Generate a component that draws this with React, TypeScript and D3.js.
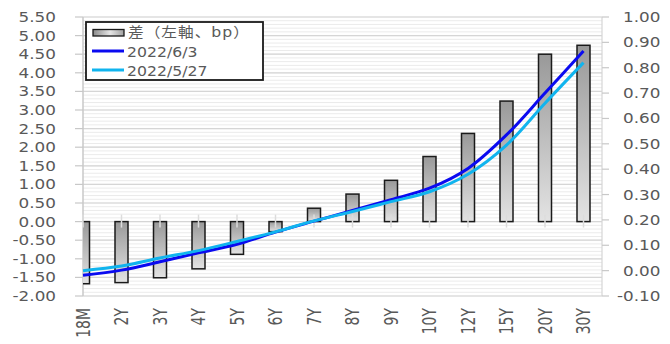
import React from "react";
import * as d3 from "d3";

// Tenors along the curve
const categories = ["18M", "2Y", "3Y", "4Y", "5Y", "6Y", "7Y", "8Y", "9Y", "10Y", "12Y", "15Y", "20Y", "30Y"];
// Week-over-week change in bp (left axis)
const diffBp = [-1.67, -1.64, -1.51, -1.27, -0.88, -0.27, 0.36, 0.74, 1.11, 1.75, 2.37, 3.24, 4.5, 4.74];
// Yields in % (right axis)
const yieldJun3 = [-0.018, 0.002, 0.035, 0.07, 0.104, 0.152, 0.195, 0.237, 0.28, 0.325, 0.403, 0.535, 0.7, 0.866];
const yieldMay27 = [0.0, 0.018, 0.05, 0.079, 0.115, 0.153, 0.196, 0.233, 0.272, 0.311, 0.38, 0.495, 0.66, 0.82];

const leftTicks = d3.range(-2, 5.5001, 0.5);
const rightTicks = d3.range(-0.1, 1.0001, 0.1);
const minorTicks = d3.range(-2, 5.5001, 0.1);

const seriesNames = ["差（左軸、bp）", "2022/6/3", "2022/5/27"];
const lineColors = ["#0a0af0", "#10b4ee"];

const W = 670;
const H = 344;
const plot = { left: 83, right: 602, top: 17, bottom: 296 };
const FONT = "'DejaVu Sans', 'Noto Sans CJK JP', sans-serif";
const TEXT = "#595959";

export default function App() {
  const x = d3
    .scalePoint<string>()
    .domain(categories)
    .range([plot.left, 583.5]);
  const yL = d3.scaleLinear().domain([-2, 5.5]).range([plot.bottom, plot.top]);
  const yR = d3.scaleLinear().domain([-0.1, 1.0]).range([plot.bottom, plot.top]);

  const line = (vals: number[]) =>
    d3
      .line<number>()
      .x((_, i) => x(categories[i]) as number)
      .y((v) => yR(v))
      .curve(d3.curveCatmullRom.alpha(0.5))(vals) as string;

  const barW = 13;
  const zeroY = yL(0);

  return (
    <svg
      width={W}
      height={H}
      style={{ position: "absolute", left: 0, top: 0, background: "#fff" }}
      fontFamily={FONT}
    >
      <defs>
        <linearGradient id="barGrad" x1="0" y1="0" x2="0" y2="1">
          <stop offset="0" stopColor="#999999" />
          <stop offset="1" stopColor="#e3e3e3" />
        </linearGradient>
        <linearGradient id="legGrad" x1="0" y1="0" x2="1" y2="0">
          <stop offset="0" stopColor="#8a8a8a" />
          <stop offset="0.55" stopColor="#e6e6e6" />
          <stop offset="1" stopColor="#a0a0a0" />
        </linearGradient>
        <clipPath id="plotClip">
          <rect x={plot.left} y={plot.top - 2} width={plot.right - plot.left} height={plot.bottom - plot.top + 4} />
        </clipPath>
      </defs>

      {/* minor gridlines */}
      {minorTicks.map((t, i) => (
        <line key={"mn" + i} x1={plot.left} x2={plot.right} y1={yL(t)} y2={yL(t)} stroke="#ebebeb" strokeWidth={1} />
      ))}
      {/* major gridlines */}
      {leftTicks.map((t, i) => (
        <line key={"mj" + i} x1={plot.left} x2={plot.right} y1={yL(t)} y2={yL(t)} stroke="#d6d6d6" strokeWidth={1.2} />
      ))}

      {/* plot borders / axes */}
      <line x1={plot.left} x2={plot.left} y1={plot.top} y2={plot.bottom} stroke="#c8c8c8" strokeWidth={1.5} />
      <line x1={plot.right} x2={plot.right} y1={plot.top} y2={plot.bottom} stroke="#d6d6d6" strokeWidth={1.2} />

      {/* left ticks & labels */}
      {leftTicks.map((t, i) => (
        <g key={"lt" + i}>
          <line x1={75} x2={plot.left} y1={yL(t)} y2={yL(t)} stroke="#c8c8c8" strokeWidth={1.2} />
          <text
            transform={`translate(56,${yL(t) + 5}) scale(1.2,1)`}
            textAnchor="end"
            fontSize={14}
            fill={TEXT}
          >
            {t.toFixed(2)}
          </text>
        </g>
      ))}

      {/* right ticks & labels */}
      {rightTicks.map((t, i) => (
        <g key={"rt" + i}>
          <line x1={plot.right} x2={609} y1={yR(t)} y2={yR(t)} stroke="#c8c8c8" strokeWidth={1.2} />
          <text
            transform={`translate(${t < 0 ? 617 : 623},${yR(t) + 5}) scale(1.2,1)`}
            textAnchor="start"
            fontSize={14}
            fill={TEXT}
          >
            {t.toFixed(2)}
          </text>
        </g>
      ))}

      {/* bars */}
      <g clipPath="url(#plotClip)">
        {diffBp.map((v, i) => {
          const cx = x(categories[i]) as number;
          const y0 = Math.min(yL(v), zeroY);
          const h = Math.abs(yL(v) - zeroY);
          return (
            <rect
              key={"b" + i}
              x={cx - barW / 2}
              y={y0}
              width={barW}
              height={h}
              fill="url(#barGrad)"
              stroke="#1a1a1a"
              strokeWidth={1.5}
            />
          );
        })}
      </g>

      {/* category ticks across the zero line */}
      {categories.map((c, i) => (
        <line
          key={"ct" + i}
          x1={x(c) as number}
          x2={x(c) as number}
          y1={zeroY - 7}
          y2={zeroY + 6}
          stroke="#dcdcdc"
          strokeWidth={1.5}
        />
      ))}

      {/* lines */}
      <path d={line(yieldJun3)} fill="none" stroke={lineColors[0]} strokeWidth={3} strokeLinejoin="round" />
      <path d={line(yieldMay27)} fill="none" stroke={lineColors[1]} strokeWidth={3} strokeLinejoin="round" />

      {/* x labels */}
      {categories.map((c, i) => (
        <text
          key={"xl" + i}
          transform={`translate(${(x(c) as number) + 6.5},308) scale(1.45,1) rotate(-90)`}
          textAnchor="end"
          fontSize={14}
          fill={TEXT}
        >
          {c}
        </text>
      ))}

      {/* legend */}
      <g>
        <rect x={86} y={22} width={177} height={58} fill="#fff" stroke="#1a1a1a" strokeWidth={1.8} />
        <rect x={93} y={29.5} width={31} height={6.5} fill="url(#legGrad)" stroke="#1a1a1a" strokeWidth={1.3} />
        <text
          transform="translate(128,36.5) scale(1.12,1)"
          fontSize={14}
          fill={TEXT}
          textLength={108}
          lengthAdjust="spacing"
        >
          {seriesNames[0]}
        </text>
        <line x1={92} x2={124} y1={51} y2={51} stroke={lineColors[0]} strokeWidth={3} />
        <text transform="translate(127,56.5) scale(1.12,1)" fontSize={14} fill={TEXT}>
          {seriesNames[1]}
        </text>
        <line x1={92} x2={124} y1={70} y2={70} stroke={lineColors[1]} strokeWidth={3} />
        <text transform="translate(127,75.5) scale(1.12,1)" fontSize={14} fill={TEXT}>
          {seriesNames[2]}
        </text>
      </g>
    </svg>
  );
}
